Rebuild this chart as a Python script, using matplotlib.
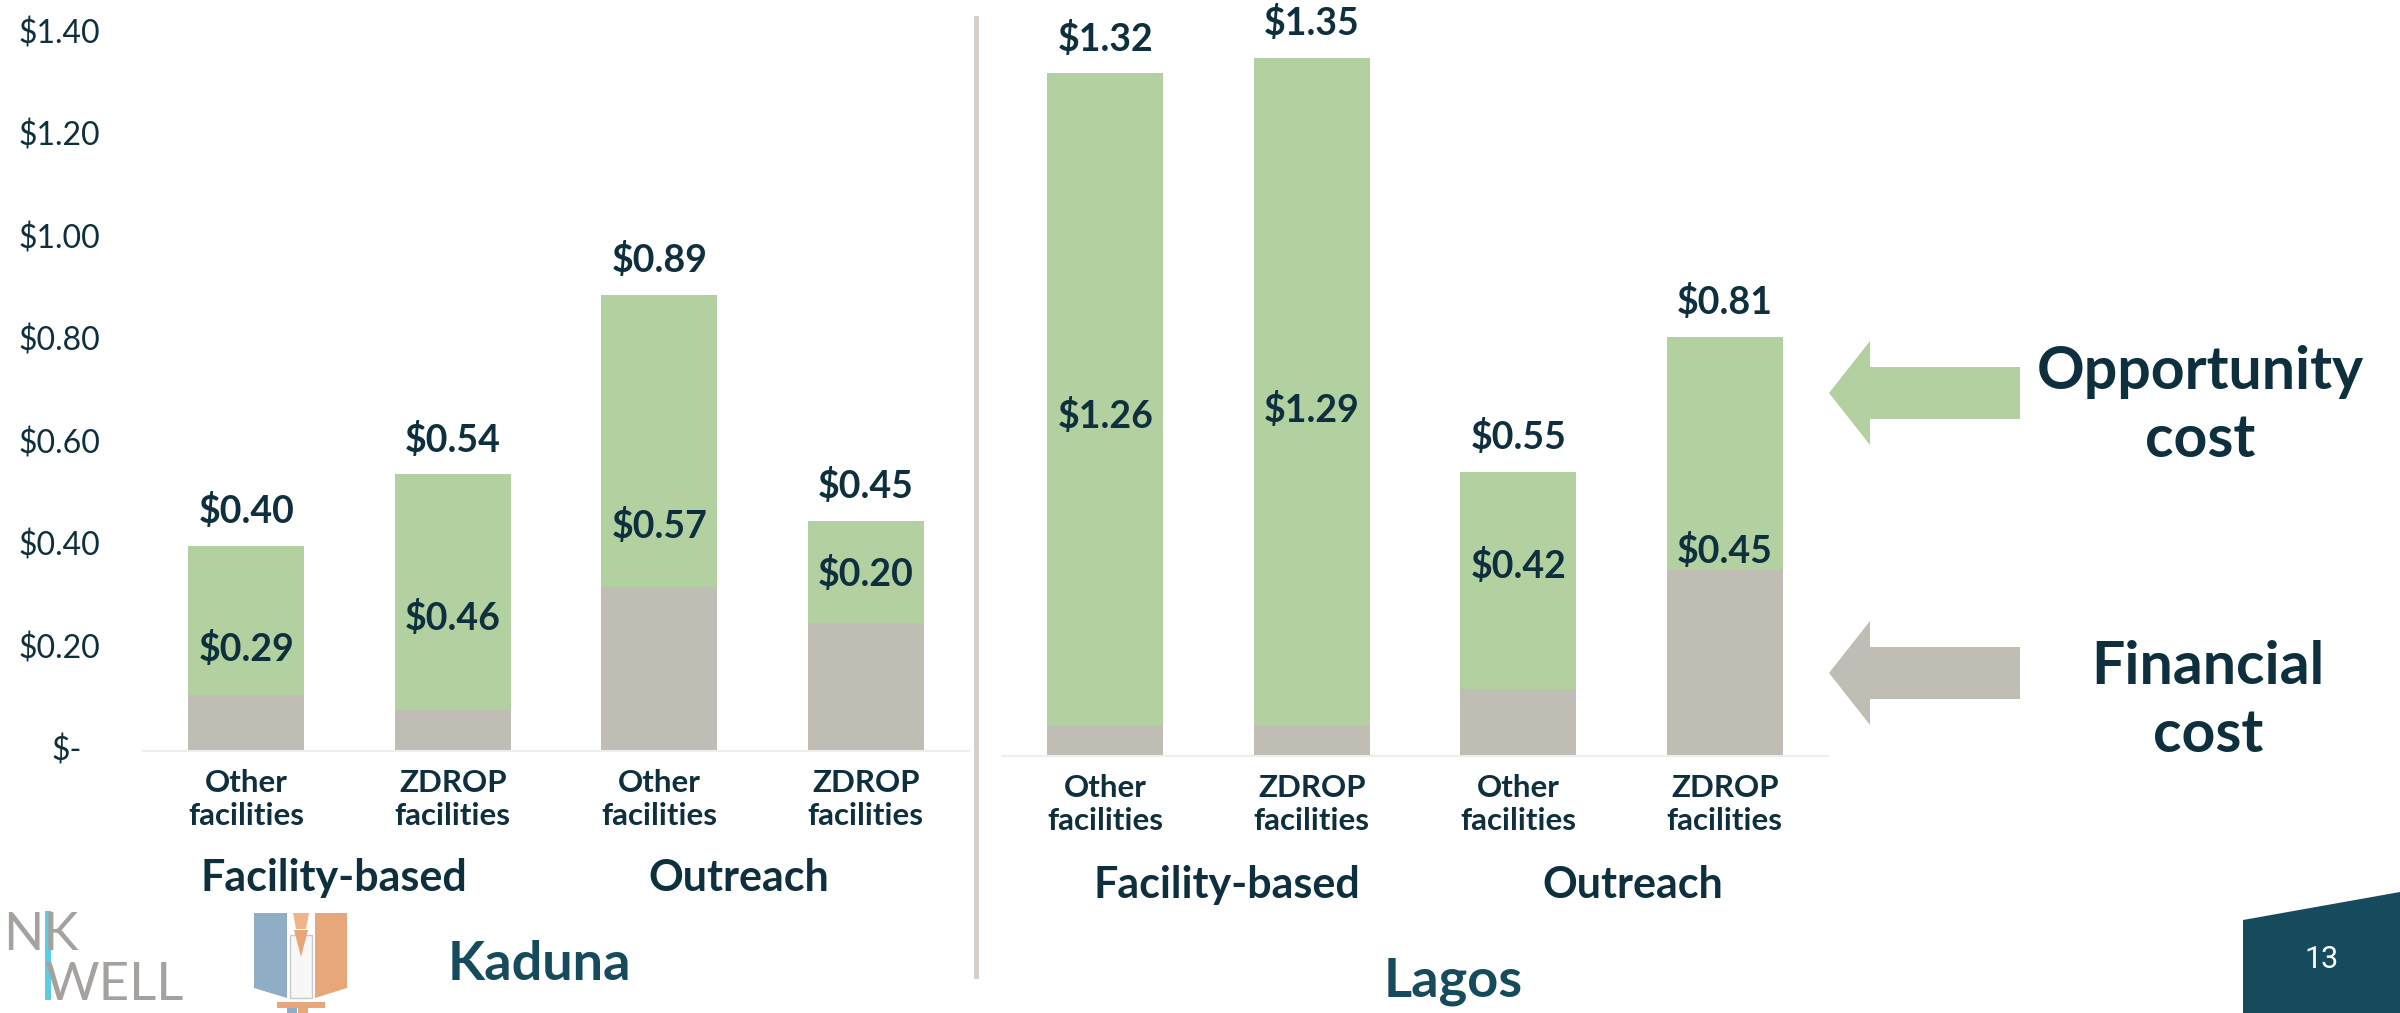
import matplotlib.pyplot as plt
from matplotlib.patches import Polygon

W, H = 2400, 1013

# data
categories = ["Other\nfacilities", "ZDROP\nfacilities", "Other\nfacilities", "ZDROP\nfacilities"]
groups = ["Facility-based", "Outreach"]
regions = ["Kaduna", "Lagos"]

kaduna_total = [0.40, 0.54, 0.89, 0.45]
kaduna_opp = [0.29, 0.46, 0.57, 0.20]
lagos_total = [1.32, 1.35, 0.55, 0.81]
lagos_opp = [1.26, 1.29, 0.42, 0.45]

y_ticks = [0.0, 0.2, 0.4, 0.6, 0.8, 1.0, 1.2, 1.4]
y_labels = ["$-", "$0.20", "$0.40", "$0.60", "$0.80", "$1.00", "$1.20", "$1.40"]

# where the inner (opportunity) labels sit, in $ units
kaduna_lab_y = [0.20, 0.26, 0.44, 0.345]
lagos_lab_y = [0.657, 0.669, 0.367, 0.397]

green = "#b3d0a0"
grey = "#c0bdb5"
navy = "#0e2f3d"
teal = "#164b5e"
logo_grey = "#a4a19e"

plt.rcParams['font.family'] = ['Lato', 'DejaVu Sans']

fig = plt.figure(figsize=(W / 100, H / 100), dpi=100)


def px(x, y):
    # pixel position -> figure fraction
    return (x / W, 1 - y / H)


def poly(pts, color, **kw):
    fig.add_artist(Polygon([px(a, b) for a, b in pts], closed=True,
                           transform=fig.transFigure, facecolor=color,
                           edgecolor=kw.get("ec", "none"), lw=kw.get("lw", 0)))


def draw_panel(rect, total, opp, lab_y, show_y):
    ax = fig.add_axes(rect)
    x = list(range(len(total)))
    fin = [t - o for t, o in zip(total, opp)]
    ax.bar(x, fin, width=0.56, color=grey)
    ax.bar(x, opp, width=0.56, bottom=fin, color=green)
    for i in x:
        ax.annotate(f"${total[i]:.2f}", (i, total[i]), xytext=(0, 25),
                    textcoords="offset points", ha="center", va="center",
                    fontsize=27, fontweight="bold", color=navy)
        ax.text(i, lab_y[i], f"${opp[i]:.2f}", ha="center", va="center",
                fontsize=27, fontweight="bold", color=navy)
    ax.set_xlim(-0.5, 3.5)
    ax.set_ylim(0, 1.4)
    ax.set_xticks(x)
    ax.set_xticklabels(categories, fontsize=22.5, fontweight="bold", color=navy,
                       linespacing=1.2)
    ax.tick_params(axis="x", length=0, pad=13)
    for s in ["top", "right", "left"]:
        ax.spines[s].set_visible(False)
    ax.spines["bottom"].set_color("#eeeeee")
    ax.spines["bottom"].set_linewidth(1.5)
    ax.set_yticks([])
    if show_y:
        # accounting-style labels: the zero dash sits left of the column edge
        for v, lab in zip(y_ticks, y_labels):
            xr = -0.074 if v == 0 else -0.052
            ax.text(xr, v, lab, transform=ax.get_yaxis_transform(),
                    ha="right", va="center", fontsize=23, color=navy)
    return ax


draw_panel([143 / W, (H - 751) / H, (969 - 143) / W, (751 - 34) / H],
           kaduna_total, kaduna_opp, kaduna_lab_y, True)
draw_panel([1002 / W, (H - 756) / H, (1828 - 1002) / W, (756 - 32) / H],
           lagos_total, lagos_opp, lagos_lab_y, False)

# group labels
for gx, gy, g in [(334, 878, groups[0]), (739, 878, groups[1]),
                  (1227, 885, groups[0]), (1633, 885, groups[1])]:
    fig.text(*px(gx, gy), g, ha="center", va="center", fontsize=31,
             fontweight="bold", color=navy)

# region names
fig.text(*px(448, 964), regions[0], ha="left", va="center", fontsize=39,
         fontweight="bold", color=teal)
fig.text(*px(1453, 981), regions[1], ha="center", va="center", fontsize=39,
         fontweight="bold", color=teal)

# divider between panels
fig.add_artist(plt.Line2D([976 / W, 976 / W], [1 - 18 / H, 1 - 976 / H],
                          color="#d8cfc7", lw=3.5))


# legend arrows
def arrow(yc, color):
    poly([(1829, yc), (1870, yc - 52), (1870, yc - 26), (2020, yc - 26),
          (2020, yc + 26), (1870, yc + 26), (1870, yc + 52)], color)


arrow(393, green)
arrow(673, grey)
fig.text(*px(2200, 406), "Opportunity\ncost", ha="center", va="center",
         fontsize=42.5, fontweight="bold", color=navy, linespacing=1.3)
fig.text(*px(2208, 701), "Financial\ncost", ha="center", va="center",
         fontsize=42.5, fontweight="bold", color=navy, linespacing=1.3)

# page number tab
poly([(2243, 920), (2400, 892), (2400, 1013), (2243, 1013)], teal)
fig.text(*px(2322, 959), "13", ha="center", va="center", fontsize=22,
         color="white", family=["Roboto", "DejaVu Sans"])

# logos (rough)
fig.text(*px(3, 950), "NK", ha="left", va="baseline", fontsize=38,
         color=logo_grey)
fig.text(*px(44, 1000), "WELL", ha="left", va="baseline", fontsize=38,
         color=logo_grey)
poly([(45, 911), (51, 911), (51, 1000), (45, 1000)], "#5ccbe3")
# book
poly([(254, 913), (287, 913), (287, 998), (254, 988)], "#8fadc4")
poly([(315, 913), (347, 913), (347, 988), (315, 998)], "#e8a67b")
poly([(290, 935), (312, 935), (312, 998), (290, 998)], "#f7f7f7",
     ec="#c9c9c9", lw=1)
poly([(294, 930), (308, 930), (301, 957)], "#e8a67b")
poly([(293, 913), (309, 913), (306, 929), (296, 929)], "#f0b48a")
poly([(277, 1002), (325, 1002), (325, 1008), (277, 1008)], "#e8a67b")
poly([(287, 1008), (297, 1008), (297, 1013), (287, 1013)], "#8fadc4")
poly([(298, 1008), (308, 1008), (308, 1013), (298, 1013)], "#e8a67b")

fig.savefig("out.png", dpi=100)
